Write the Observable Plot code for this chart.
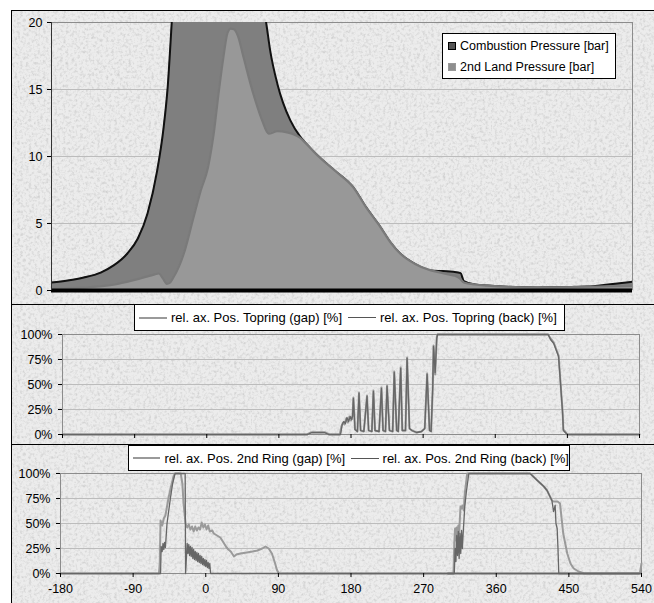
<!DOCTYPE html>
<html>
<head>
<meta charset="utf-8">
<script src="https://cdn.jsdelivr.net/npm/d3@7"></script>
<script src="https://cdn.jsdelivr.net/npm/@observablehq/plot@0.6"></script>
<style>
  html, body { margin: 0; padding: 0; background: #fff; }
  #wrap { position: relative; width: 654px; height: 603px; overflow: hidden; font-family: "Liberation Sans", Arial, sans-serif; }
  .panel { position: absolute; left: 11px; width: 700px; border: 1px solid #000; box-sizing: border-box;
    background-color: #ececec;
    background-image: url("data:image/svg+xml,%3Csvg xmlns='http://www.w3.org/2000/svg' width='240' height='240'%3E%3Cfilter id='n'%3E%3CfeTurbulence type='fractalNoise' baseFrequency='0.35' numOctaves='3' seed='4' stitchTiles='stitch'/%3E%3CfeColorMatrix type='matrix' values='0 0 0 0 0.55 0 0 0 0 0.55 0 0 0 0 0.55 1.6 0 0 0 -0.72'/%3E%3C/filter%3E%3Crect width='100%25' height='100%25' filter='url(%23n)'/%3E%3C/svg%3E");
  }
  .chart { position: absolute; left: 12px; }
  .lg { position: absolute; background: #fff; border: 1px solid #000; box-sizing: border-box; color: #000; }
  .row { position: absolute; left: 5px; display: flex; align-items: center; font-size: 12.5px; white-space: nowrap; }
  .sq { width: 8px; height: 8px; margin-right: 4px; box-sizing: border-box; }
  .hl { display: flex; align-items: center; height: 100%; padding-left: 4px; font-size: 13px; white-space: nowrap; }
  .ln { display: inline-block; width: 28px; margin-right: 4px; }
</style>
</head>
<body>
<div id="wrap">
  <div class="panel" style="top:10px;height:295px;"></div>
  <div class="panel" style="top:304px;height:141px;"></div>
  <div class="panel" style="top:444px;height:200px;"></div>
  <div id="c1" class="chart" style="top:10px;"></div>
  <div id="c2" class="chart" style="top:304px;"></div>
  <div id="c3" class="chart" style="top:444px;"></div>
  <div class="lg" style="left:442px;top:33px;width:174px;height:46px;">
    <div class="row" style="top:5px;"><span class="sq" style="background:#555;border:1px solid #000;"></span>Combustion Pressure [bar]</div>
    <div class="row" style="top:26px;"><span class="sq" style="background:#8e8e8e;border:1px solid #999;"></span>2nd Land Pressure [bar]</div>
  </div>
  <div class="lg" style="left:134px;top:304px;width:431px;height:27px;">
    <div class="hl"><span class="ln" style="border-top:2px solid #9a9a9a;"></span>rel. ax. Pos. Topring (gap) [%]<span class="ln" style="border-top:1px solid #555;margin-left:6px;"></span>rel. ax. Pos. Topring (back) [%]</div>
  </div>
  <div class="lg" style="left:128px;top:445px;width:442px;height:26px;">
    <div class="hl"><span class="ln" style="border-top:2px solid #9a9a9a;"></span>rel. ax. Pos. 2nd Ring (gap) [%]<span class="ln" style="border-top:1px solid #555;margin-left:6px;"></span>rel. ax. Pos. 2nd Ring (back) [%]</div>
  </div>
</div>
<script>
// ---- data: [crank angle (deg), value] ----
const xTicks = [-180, -90, 0, 90, 180, 270, 360, 450, 540];
const pressureTicks = [0, 5, 10, 15, 20];
const percentTicks = [0, 25, 50, 75, 100];

const combustionPressure = [
  [-180,0.6],[-160,0.75],[-140,0.97],[-119,1.34],[-103,1.87],[-86,2.76],[-73,3.88],[-61,5.75],
  [-49,8.96],[-41,12.2],[-36,15.2],[-31,20],[-25,26],[-15,36],[-5,46],[5,52],[15,50],[30,42],
  [50,33],[70,25],[86,20],[91,17.9],[100,15.4],[107,14.0],[116,12.7],[128,11.5],[135,11.0],
  [151,10.0],[172,8.9],[194,7.7],[210,6.2],[228,4.7],[240,3.6],[252,2.76],[270,2.0],
  [290,1.5],[305,1.45],[318,1.4],[327,1.3],[331,0.7],[345,0.45],[360,0.37],[422,0.22],
  [484,0.3],[510,0.45],[540,0.65]
];
const landPressure = [
  [-180,0.15],[-140,0.22],[-98,0.5],[-70,0.9],[-52,1.2],[-47,1.27],[-42,0.9],[-37,0.5],[-34,0.55],
  [-29,0.97],[-16,2.76],[-4,5.45],[5,7.46],[14,9.2],[21,11.7],[27,14.7],[33,17.4],[38,19.2],
  [42,19.55],[46,19.5],[51,19.0],[58,17.4],[70,14.7],[81,12.7],[89,11.7],[100,11.9],[112,11.8],
  [128,11.4],[135,11.0],[151,10.0],[172,8.9],[194,7.7],[210,6.2],[228,4.7],[240,3.6],[252,2.76],[270,2.0],
  [290,1.5],[305,1.3],[312,1.2],[320,1.1],[326,0.9],[331,0.6],[345,0.45],[360,0.37],[422,0.22],
  [484,0.28],[540,0.35]
];

const topringGap = [
  [-180,0],[125,0],[130,2],[148,2],[153,0],[166,0],[168,8],[170,12],[172,10],[174,16],[176,12],
  [178,18],[180,14],[182,19],[183,37],[185,5],[188,3],[190,42],[192,4],[196,3],[200,39],[202,4],
  [206,3],[208,44],[210,4],[215,3],[218,47],[220,4],[223,3],[225,49],[228,4],[232,3],[234,63],
  [237,4],[239,3],[242,67],[244,4],[248,4],[250,77],[253,6],[256,4],[262,2],[268,3],[272,6],
  [275,61],[278,4],[280,3],[282,46],[283,89],[285,60],[287,97],[288,100],[426,100],[429,96],
  [433,92],[439,79],[441,57],[444,23],[445,5],[450,0],[540,0]
];
const topringBack = [
  [-180,0],[126,0],[131,2],[147,2],[152,0],[167,0],[169,10],[171,13],[173,11],[175,17],[177,13],
  [179,18],[181,15],[182,19],[183,36],[185,5],[188,3],[190,41],[192,4],[196,3],[200,38],[202,4],
  [206,3],[208,43],[210,4],[215,3],[218,46],[220,4],[223,3],[225,48],[228,4],[232,3],[234,62],
  [237,4],[239,3],[242,66],[244,4],[248,4],[250,76],[253,6],[256,4],[262,2],[268,3],[272,6],
  [275,60],[278,4],[280,3],[282,48],[283,88],[285,62],[287,96],[288,100],[426,100],[429,95],
  [433,91],[439,78],[441,56],[444,22],[445,4],[450,0],[540,0]
];

const ring2Gap = [
  [-180,0],[-58,0],[-57,10],[-56,53],[-54,48],[-52,55],[-50,58],[-48,67],[-46,76],[-43,87],
  [-40,97],[-38.5,100],[-31,100],[-29,90],[-27.5,70],[-25,50],[-23,46],[-21,49],[-19,44],
  [-17,47],[-15,42],[-13,47],[-11,43],[-9,46],[-7,44],[-5,51],[-3,46],[-1,49],[1,44],[3,48],
  [5,42],[8,43],[10,40],[14,38],[18,36],[22,31],[25,27],[28,24],[31,22],[35,17],[38,19],
  [43,20],[51,21],[58,22],[64,23],[70,25],[74,27],[78,25],[82,20],[86,10],[88,4],[90.5,0],
  [538,0],[540,10]
];
const ring2Back = [
  [-180,0],[-56,0],[-55.3,27],[-54,22],[-53,30],[-52,24],[-51,31],[-50,26],[-48,50],[-46,62],
  [-43.5,77],[-41,90],[-38,100],[-29,100],[-25.5,100],[-25,0],[-23,30],[-22,20],[-21,29],
  [-20,18],[-19,27],[-18,17],[-17,26],[-16,15],[-15,24],[-14,14],[-13,22],[-12,13],[-11,21],
  [-10,12],[-9,20],[-8,11],[-7,18],[-6,10],[-5,17],[-4,9],[-3,15],[-2,8],[-1,14],[0,7],
  [1,13],[2,6],[3,11],[4,5],[5,10],[6,0],[540,0]
];
const ring2GapCycle2 = [
  [300,0],[307,0],[308,30],[309,45],[310,33],[311,46],[312,35],[313,48],[314,40],[315.7,67],
  [317,65],[318,68],[319.8,63],[321,80],[322.5,90],[324,100],[402,100],[411,93],[419,87],
  [423,83],[429,73],[431,72],[436,72],[439,70],[441,55],[443,40],[445,32],[448,20],[452,10],
  [456,5],[462,2],[469,0],[537,0]
];
const ring2BackCycle2 = [
  [300,0],[308,0],[309,25],[310,12],[311,38],[312,18],[313,42],[314,15],[315,40],[316,20],
  [317,43],[318,25],[319,40],[321,67],[323,82],[326,100],[402,100],[411,93],[419,87],[423,83],
  [429,73],[431,62],[433,68],[434,50],[435.5,45],[436.5,25],[437.5,0],[537,0]
];

// ---- drawing ----
const font = '"Liberation Sans", Arial, sans-serif';
const X = d => d[0], Y = d => d[1];
const smooth = "monotone-x";

const pressureChart = Plot.plot({
  width: 642, height: 294,
  marginLeft: 39, marginRight: 22, marginTop: 12, marginBottom: 14,
  style: {background: "transparent", fontFamily: font, fontSize: "12px", color: "#000"},
  x: {domain: [-180, 540], axis: null},
  y: {domain: [0, 20], axis: null},
  marks: [
    Plot.ruleY([5, 10, 15], {stroke: "#bcbcbc"}),
    Plot.ruleY([20], {stroke: "#8c8c8c"}),
    Plot.ruleX([540], {stroke: "#8c8c8c"}),
    Plot.areaY(combustionPressure, {x: X, y: Y, fill: "#7f7f7f", curve: smooth, clip: true}),
    Plot.lineY(combustionPressure, {x: X, y: Y, stroke: "#111", strokeWidth: 2, curve: smooth, clip: true}),
    Plot.areaY(landPressure, {x: X, y: Y, fill: "#989898", curve: smooth, clip: true}),
    Plot.lineY(landPressure, {x: X, y: Y, stroke: "#7a7a7a", strokeWidth: 2.2, curve: smooth, clip: true}),
    Plot.ruleY([0], {stroke: "#000", strokeWidth: 4}),
    Plot.ruleX([-180], {stroke: "#333"}),
    Plot.axisY({ticks: pressureTicks, tickSize: 4, tickPadding: 5, label: null, fontSize: 12.5})
  ]
});
document.getElementById("c1").appendChild(pressureChart);

function ringPanel(gapSeries, backSeries, opts) {
  return Plot.plot({
    width: 642, height: opts.height,
    marginLeft: opts.ml, marginRight: opts.mr, marginTop: opts.mt, marginBottom: opts.mb,
    style: {background: "transparent", fontFamily: font, fontSize: "12px", color: "#000"},
    x: {domain: [-180, 540], axis: null},
    y: {domain: [0, 100], axis: null},
    marks: [
      Plot.ruleY([25, 50, 75], {stroke: "#bcbcbc"}),
      Plot.frame({stroke: "#8c8c8c"}),
      ...gapSeries.map(s => Plot.lineY(s, {x: X, y: Y, stroke: "#9a9a9a", strokeWidth: 2})),
      ...backSeries.map(s => Plot.lineY(s, {x: X, y: Y, stroke: "#666", strokeWidth: 1.3})),
      Plot.axisY({ticks: percentTicks, tickSize: 4, tickPadding: 6, tickFormat: d => d + "%", label: null, fontSize: 12.5}),
      Plot.axisX({ticks: xTicks, tickSize: 4, tickPadding: 7, label: null, fontSize: 12.5,
        tickFormat: opts.labels ? (d => String(d)) : (() => "")})
    ]
  });
}

document.getElementById("c2").appendChild(
  ringPanel([topringGap], [topringBack], {height: 140, ml: 50, mr: 15, mt: 30, mb: 10, labels: false}));
document.getElementById("c3").appendChild(
  ringPanel([ring2Gap, ring2GapCycle2], [ring2Back, ring2BackCycle2], {height: 159, ml: 48, mr: 13, mt: 29, mb: 30, labels: true}));
</script>
</body>
</html>
